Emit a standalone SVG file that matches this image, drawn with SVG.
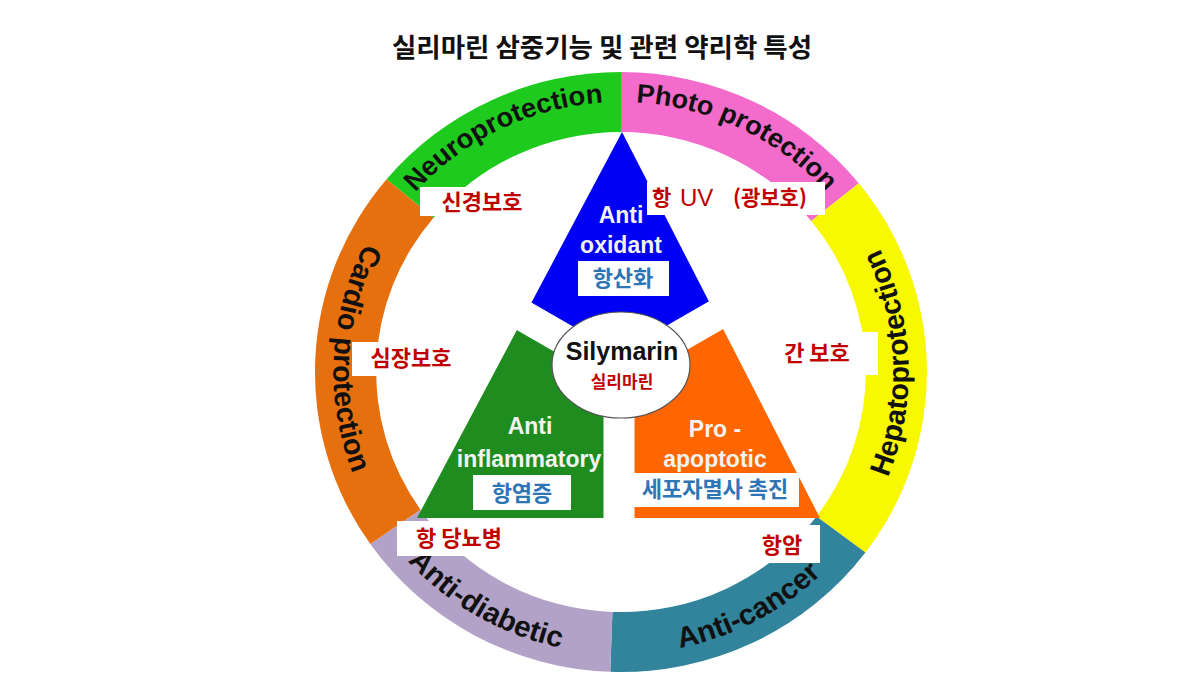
<svg xmlns="http://www.w3.org/2000/svg" width="1200" height="675" viewBox="0 0 1200 675">
  <style>
    .ring { font-family: "Liberation Sans", Arial, sans-serif; font-weight: 700; fill: #111; }
    .tri { font-family: "Liberation Sans", Arial, sans-serif; font-weight: 700; fill: #f2f2f2; font-size: 23px; text-anchor: middle; }
    .kr { font-family: "Noto Sans CJK KR", "Noto Sans", sans-serif; font-weight: 700; }
    .red { fill: #c00000; font-size: 22px; text-anchor: middle; }
    .blue { fill: #2e75b6; font-size: 22px; text-anchor: middle; }
    .box { fill: #ffffff; }
  </style>
  <defs>
    <path id="pNeuro" d="M -246.7,-109.8 A 270 270 0 0 1 65.3,-262.0"/>
    <path id="pPhoto" d="M -65.3,-262.0 A 270 270 0 0 1 246.7,-109.8"/>
    <path id="pHepato" d="M 222.2,173.6 A 282 282 0 0 0 209.6,-188.7"/>
    <path id="pCardio" d="M -206.2,-192.3 A 282 282 0 0 0 -225.2,169.7"/>
    <path id="pDiab" d="M -265.0,96.4 A 282 282 0 0 0 49.0,277.7"/>
    <path id="pCancer" d="M -58.6,275.8 A 282 282 0 0 0 261.5,105.6"/>
  </defs>
  <rect width="1200" height="675" fill="#ffffff"/>

  <g id="title">
    <text x="602" y="57" class="kr" font-size="26.5" text-anchor="middle" fill="#111">실리마린 삼중기능 및 관련 약리학 특성</text>
  </g>

  <g id="ring" transform="translate(621,372) scale(1.02,1)">
    <g id="seg-neuro">
      <path d="M -229.8,-192.8 A 300 300 0 0 1 0,-300 L 0,-240 A 240 240 0 0 0 -183.8,-154.3 Z" fill="#1fca1f"/>
      <text class="ring" font-size="27"><textPath href="#pNeuro" startOffset="50%" text-anchor="middle">Neuroprotection</textPath></text>
    </g>
    <g id="seg-photo">
      <path d="M 0,-300 A 300 300 0 0 1 233.1,-188.8 L 186.5,-151.0 A 240 240 0 0 0 0,-240 Z" fill="#f36bcb"/>
      <text class="ring" font-size="26.5"><textPath href="#pPhoto" startOffset="49.5%" text-anchor="middle">Photo protection</textPath></text>
    </g>
    <g id="seg-hepato">
      <path d="M 233.1,-188.8 A 300 300 0 0 1 239.6,180.5 L 191.7,144.4 A 240 240 0 0 0 186.5,-151.0 Z" fill="#f8f800"/>
      <text class="ring" font-size="28.5"><textPath href="#pHepato" startOffset="50%" text-anchor="middle">Hepatoprotection</textPath></text>
    </g>
    <g id="seg-cancer">
      <path d="M 239.6,180.5 A 300 300 0 0 1 -10.5,299.8 L -8.4,239.9 A 240 240 0 0 0 191.7,144.4 Z" fill="#31849b"/>
      <text class="ring" font-size="29"><textPath href="#pCancer" startOffset="50%" text-anchor="middle">Anti-cancer</textPath></text>
    </g>
    <g id="seg-diabetic">
      <path d="M -10.5,299.8 A 300 300 0 0 1 -245.8,172.1 L -196.6,137.7 A 240 240 0 0 0 -8.4,239.9 Z" fill="#b3a2c7"/>
      <text class="ring" font-size="29"><textPath href="#pDiab" startOffset="50%" text-anchor="middle">Anti-diabetic</textPath></text>
    </g>
    <g id="seg-cardio">
      <path d="M -245.8,172.1 A 300 300 0 0 1 -229.8,-192.8 L -183.8,-154.3 A 240 240 0 0 0 -196.6,137.7 Z" fill="#e6700e"/>
      <text class="ring" font-size="28.5"><textPath href="#pCardio" startOffset="50%" text-anchor="middle">Cardio protection</textPath></text>
    </g>
  </g>

  <g id="triangles">
    <polygon id="tri-antioxidant" points="622,132 715.9,315.1 619,371 524.2,316.2" fill="#0000f5"/>
    <polygon id="tri-antiinflammatory" points="524.2,316.2 619,371 619,518 417,518" fill="#1e8c1e"/>
    <polygon id="tri-proapoptotic" points="715.9,315.1 820,518 619,518 619,371" fill="#ff6600"/>
  </g>

  <g id="connectors" fill="none" stroke="#ffffff" stroke-width="31" stroke-linecap="butt">
    <path d="M 619,371 L 619,519"/>
    <path d="M 619,371 L 508,307"/>
    <path d="M 619,371 L 732,306"/>
  </g>

  <g id="node-antioxidant">
    <text class="tri" x="621" y="223">Anti</text>
    <text class="tri" x="621" y="253">oxidant</text>
    <rect class="box" x="578" y="261" width="91" height="35"/>
    <text class="kr blue" x="623" y="286">항산화</text>
  </g>

  <g id="node-antiinflammatory">
    <text class="tri" x="530" y="434">Anti</text>
    <text class="tri" x="529" y="467">inflammatory</text>
    <rect class="box" x="473" y="475" width="98" height="35"/>
    <text class="kr blue" x="522" y="501">항염증</text>
  </g>

  <g id="node-proapoptotic">
    <text class="tri" x="715" y="437">Pro -</text>
    <text class="tri" x="715" y="467">apoptotic</text>
    <rect class="box" x="633" y="473" width="166" height="34"/>
    <text class="kr blue" x="715" y="497" font-size="19">세포자멸사 촉진</text>
  </g>

  <g id="node-silymarin">
    <ellipse cx="621" cy="365" rx="69" ry="53" fill="#ffffff" stroke="#555" stroke-width="1.2"/>
    <text x="622" y="360" font-family="Liberation Sans, Arial, sans-serif" font-weight="700" font-size="25" fill="#111" text-anchor="middle">Silymarin</text>
    <text class="kr" x="622" y="388" font-size="17" fill="#c00000" text-anchor="middle">실리마린</text>
  </g>

  <g id="label-neuro">
    <rect class="box" x="420" y="187" width="127" height="29"/>
    <text class="kr red" x="482" y="210">신경보호</text>
  </g>
  <g id="label-uv">
    <rect class="box" x="647" y="182" width="178" height="33"/>
    <text y="205" fill="#c00000"><tspan class="kr" x="652" font-size="21">항</tspan><tspan x="680" dy="1" font-family="Liberation Sans, Arial, sans-serif" font-size="24">UV</tspan><tspan class="kr" x="733" dy="-1" font-size="21">(광보호)</tspan></text>
  </g>
  <g id="label-cardio">
    <rect class="box" x="352" y="342" width="118" height="34"/>
    <text class="kr red" x="411" y="366">심장보호</text>
  </g>
  <g id="label-hepato">
    <rect class="box" x="753" y="332" width="125" height="43"/>
    <text class="kr red" x="817" y="361">간 보호</text>
  </g>
  <g id="label-diabetic">
    <rect class="box" x="397" y="521" width="112" height="35"/>
    <text class="kr red" x="459" y="546">항 당뇨병</text>
  </g>
  <g id="label-cancer">
    <rect class="box" x="740" y="525" width="80" height="38"/>
    <text class="kr red" x="782" y="553" font-size="21">항암</text>
  </g>
</svg>
